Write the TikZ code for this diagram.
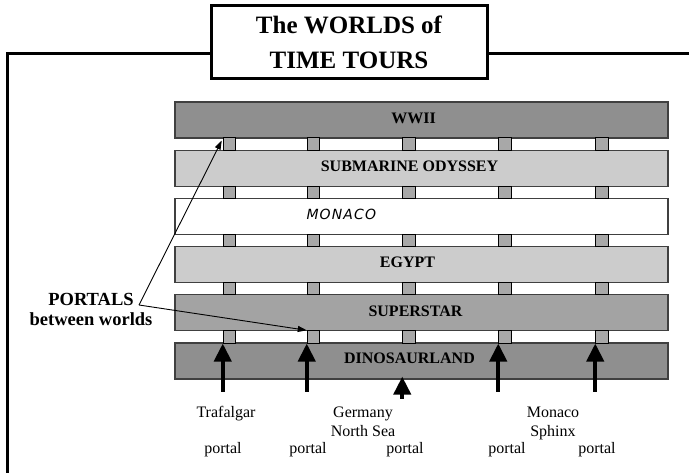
\documentclass[tikz,border=0pt]{standalone}
\usepackage{fontspec}
\setmainfont{Liberation Serif}
\newfontfamily\handfont{DejaVu Sans}[LetterSpace=8]
\usetikzlibrary{calc,shapes,positioning,arrows.meta}

\definecolor{worlddark}{gray}{0.56}
\definecolor{worldmid}{gray}{0.64}
\definecolor{worldlight}{gray}{0.80}
\definecolor{postgray}{gray}{0.66}
\definecolor{barline}{gray}{0.25}

\begin{document}
\begin{tikzpicture}[x=1bp,y=-1bp]
  \useasboundingbox (0,0) rectangle (689,473);

  \tikzstyle{titlebox} = [draw, line width=3bp, minimum width=276bp, minimum height=73bp, inner sep=0, align=center, font=\fontsize{25bp}{35bp}\selectfont\bfseries]
  \tikzstyle{frame} = [line width=3bp]
  \tikzstyle{world} = [draw=barline, line width=1.2bp, minimum width=493bp, minimum height=36bp, inner sep=0]
  \tikzstyle{wname} = [font=\fontsize{16bp}{19bp}\selectfont\bfseries]
  \tikzstyle{post} = [draw=black, fill=postgray, line width=1bp, minimum width=12.5bp, minimum height=12.2bp, inner sep=0]
  \tikzstyle{portal} = [line width=4bp, -{Triangle[width=17bp,length=18bp]}]
  \tikzstyle{pointer} = [line width=0.9bp, -{Triangle[width=6bp,length=9bp]}]
  \tikzstyle{place} = [font=\fontsize{16bp}{19bp}\selectfont, align=center, inner sep=0]

  % title and frame
  \node[titlebox] (title) at (349,42.5) {The WORLDS of\\TIME TOURS};
  \coordinate (corner) at (7,53.5);
  \coordinate (framebot) at (7,475);
  \coordinate (frameright) at (690,53.5);
  \draw[frame] (framebot) -- (corner) -- (corner -| title.west);
  \draw[frame] (corner -| title.east) -- (frameright);

  % worlds
  \node[world, fill=worlddark] (wwii) at (421.5,120) {};
  \node[world, fill=worldlight] (sub) at (421.5,168.2) {};
  \node[world, fill=white] (monaco) at (421.5,216.4) {};
  \node[world, fill=worldlight] (egypt) at (421.5,264.6) {};
  \node[world, fill=worldmid] (super) at (421.5,312.8) {};
  \node[world, fill=worlddark] (dino) at (421.5,361) {};

  \node[wname] (wwii-t) at ($(wwii.center)+(-8,-2)$) {WWII};
  \node[wname] (sub-t) at ($(sub.center)+(-12,-2)$) {SUBMARINE ODYSSEY};
  \node[font=\handfont\itshape\fontsize{14bp}{16bp}\selectfont, anchor=west] (monaco-t) at (303,214) {MONACO};
  \node[wname] (egypt-t) at ($(egypt.center)+(-14,-2)$) {EGYPT};
  \node[wname] (super-t) at ($(super.center)+(-6,-2)$) {SUPERSTAR};
  \node[wname] (dino-t) at ($(dino.center)+(-12,-3)$) {DINOSAURLAND};

  % posts between the worlds
  \foreach \y [count=\r] in {144.1,192.3,240.5,288.7,336.9}
    \foreach \x [count=\c] in {229.5,313.5,409,505,602}
      \node[post] (p\r\c) at (\x,\y) {};

  % portals into dinosaurland
  \draw[portal] ([yshift=-48bp]p51.south west) -- (p51.south west);
  \draw[portal] ([yshift=-48bp]p52.south west) -- (p52.south west);
  \draw[portal] ($(p53.west |- dino.south)+(0,19)$) -- ($(p53.west |- dino.south)+(0,-3)$);
  \draw[portal] ([yshift=-48bp]p54.south west) -- (p54.south west);
  \draw[portal] ([yshift=-48bp]p55.south west) -- (p55.south west);

  \node[place, anchor=base] (traf) at (226,417) {Trafalgar};
  \node[place, anchor=base] (germ) at (363,436) {Germany\\North Sea};
  \node[place, anchor=base] (mona) at (553,436) {Monaco\\Sphinx};
  \node[place, anchor=base] (pt1) at (223,453) {portal};
  \node[place, anchor=base] (pt2) at (308,453) {portal};
  \node[place, anchor=base] (pt3) at (405,453) {portal};
  \node[place, anchor=base] (pt4) at (507,453) {portal};
  \node[place, anchor=base] (pt5) at (597,453) {portal};

  % label
  \node[align=center, inner sep=0, font=\fontsize{18.5bp}{20bp}\selectfont\bfseries] (portals) at (91,309) {PORTALS\\between worlds};
  \coordinate (pv) at (139,305);
  \draw[pointer] (pv) -- ($(p11.north west)+(-1,3)$);
  \draw[pointer] (pv) -- (p52.north west);

\end{tikzpicture}
\end{document}
